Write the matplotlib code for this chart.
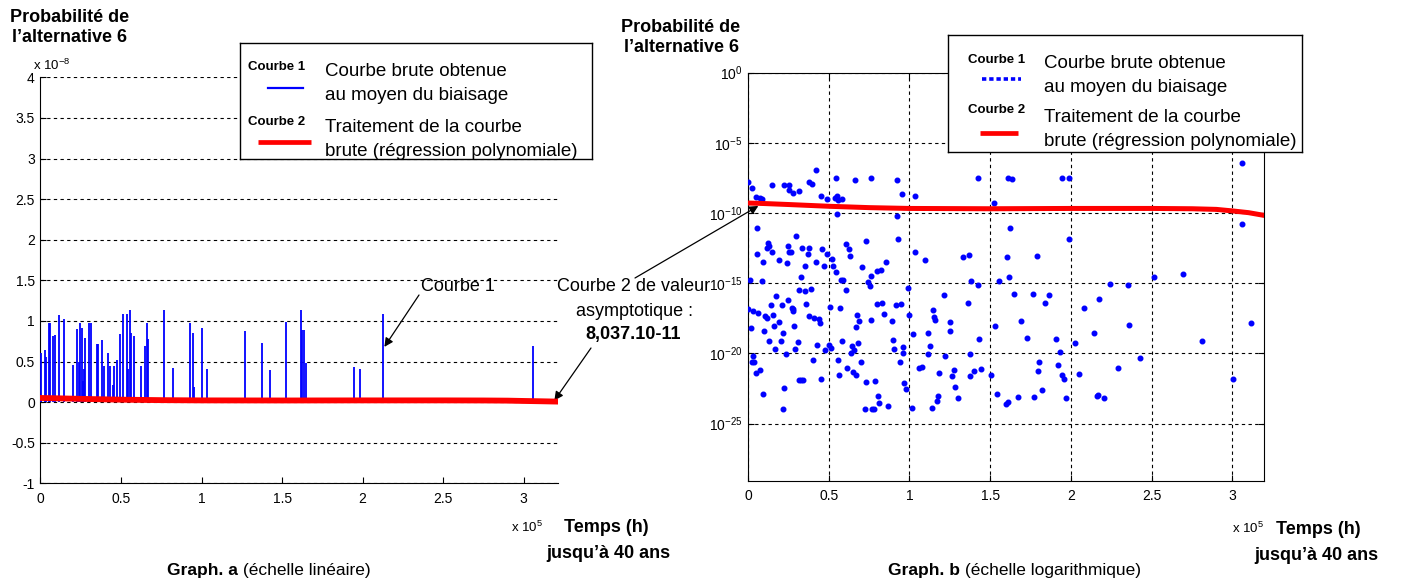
import numpy as np
import matplotlib
matplotlib.use("Agg")
import matplotlib.pyplot as plt
from matplotlib.ticker import FormatStrFormatter, NullLocator

plt.rcParams['font.family'] = ['Liberation Sans', 'DejaVu Sans']
plt.rcParams['mathtext.fontset'] = 'custom'
plt.rcParams['mathtext.rm'] = 'Liberation Sans'
plt.rcParams['mathtext.it'] = 'Liberation Sans:italic'
plt.rcParams['mathtext.bf'] = 'Liberation Sans:bold'

W, H = 1401, 578

def fx(x):
    return x / W

def fy(y):
    return 1 - y / H

# --- Graph a : courbe brute (pics), temps en 1e5 h, proba en 1e-8
spike_t = [0.002, 0.006, 0.029, 0.035, 0.052, 0.058, 0.081, 0.089, 0.118, 0.147,
           0.205, 0.227, 0.234, 0.240, 0.248, 0.256, 0.265, 0.271, 0.279, 0.304,
           0.316, 0.354, 0.360, 0.383, 0.397, 0.420, 0.434, 0.451, 0.457, 0.478,
           0.492, 0.513, 0.536, 0.544, 0.558, 0.565, 0.581, 0.624, 0.647, 0.662,
           0.668, 0.732, 0.765, 0.823, 0.926, 0.947, 0.955, 1.001, 1.036, 1.272,
           1.375, 1.427, 1.522, 1.617, 1.625, 1.634, 1.650, 1.948, 1.985, 2.126,
           3.060]
spike_p = [0.61, 0.09, 0.64, 0.56, 0.97, 0.97, 0.81, 0.83, 1.07, 1.02,
           0.46, 0.90, 0.04, 0.49, 0.97, 0.91, 0.26, 0.41, 0.79, 0.97,
           0.97, 0.72, 0.72, 0.76, 0.44, 0.61, 0.45, 0.21, 0.45, 0.52,
           0.84, 1.09, 1.09, 0.41, 1.13, 0.85, 0.81, 0.44, 0.69, 0.97,
           0.78, 0.02, 1.13, 0.42, 0.97, 0.85, 0.19, 0.91, 0.41, 0.88,
           0.73, 0.39, 0.99, 1.13, 0.89, 0.89, 0.48, 0.43, 0.41, 1.08,
           0.69]

# --- Courbe 2 : regression polynomiale
fit_t = [0, 0.1, 0.25, 0.5, 0.75, 1.0, 1.5, 2.0, 2.5, 2.75, 2.9, 3.0, 3.1, 3.2]
fit_p = [5.1e-10, 4.7e-10, 4.0e-10, 3.0e-10, 2.4e-10, 2.1e-10, 2.0e-10, 2.1e-10,
         2.1e-10, 2.0e-10, 1.8e-10, 1.4e-10, 1.05e-10, 6.6e-11]

# --- Graph b : points de la courbe brute (temps 1e5 h, log10 proba)
pts_t = [0.0, 0.027, 0.047, 0.074, 0.087, 0.058, 0.147, 0.225, 0.254, 0.256, 0.277, 0.316, 0.378, 0.394,
         0.419, 0.454, 0.491, 0.543, 0.537, 0.549, 0.555, 0.580, 0.549, 0.660, 0.764, 0.925, 0.956, 1.036,
         0.925, 1.426, 1.523, 1.612, 0.299, 0.124, 0.116, 0.132, 0.058, 0.095, 0.151, 0.190, 0.241, 0.248,
         0.256, 0.264, 0.334, 0.380, 0.373, 0.421, 0.460, 0.491, 0.353, 0.469, 0.522, 0.528, 0.543, 0.609,
         0.623, 0.632, 0.733, 0.706, 0.852, 0.931, 1.036, 1.096, 1.329, 1.366, 1.601, 0.012, 0.087, 0.330,
         0.574, 0.586, 0.745, 0.764, 0.801, 0.826, 0.755, 0.993, 1.383, 1.426, 1.554, 1.616, 0.314, 0.351,
         0.388, 0.175, 0.248, 0.609, 1.214, 1.625,
         0.0, 0.019, 0.033, 0.064, 0.105, 0.120, 0.153, 0.144, 0.159, 0.190, 0.213, 0.217, 0.270, 0.277,
         0.281, 0.285, 0.099, 0.130, 0.167, 0.204, 0.233, 0.293, 0.307, 0.357, 0.380, 0.409, 0.440, 0.448,
         0.425, 0.402, 0.477, 0.504, 0.512, 0.506, 0.572, 0.580, 0.644, 0.658, 0.638, 0.669, 0.673, 0.689,
         0.683, 0.764, 0.801, 0.832, 0.844, 0.916, 0.947, 0.889, 0.896, 0.904, 0.962, 0.962, 0.941, 0.999,
         1.020, 1.117, 1.125, 1.117, 1.143, 1.152, 1.160, 1.249, 1.249, 1.220, 1.375, 1.432, 1.360, 1.529,
         0.029, 0.025, 0.037, 0.050, 0.072, 0.093, 0.223, 0.217, 0.314, 0.328, 0.343, 0.452, 0.555, 0.563,
         0.615, 0.652, 0.667, 0.698, 0.733, 0.784, 0.727, 0.770, 0.780, 0.807, 0.813, 0.865, 0.968, 0.976,
         1.013, 1.059, 1.079, 1.137, 1.168, 1.174, 1.183, 1.263, 1.278, 1.280, 1.300, 1.372, 1.399, 1.441,
         1.505, 1.544, 1.598, 1.612,
         3.061, 1.633, 1.946, 1.988, 3.061, 1.986, 1.787, 2.516, 2.691, 2.244, 2.355,
         1.647, 1.765, 1.862, 1.839, 2.175, 2.083, 1.690, 1.730, 1.905, 2.023, 2.140, 2.361, 2.809, 3.113,
         1.934, 1.802, 1.794, 1.920, 1.946, 1.957, 2.052, 2.293, 2.427, 1.823, 1.670, 1.771, 1.971, 2.161,
         2.170, 2.206, 3.001]
pts_log = [-7.80, -8.20, -8.86, -8.93, -8.98, -11.09, -8.01, -8.01, -8.01, -8.34, -8.55, -8.46, -7.80, -7.96,
           -6.92, -8.79, -8.98, -7.53, -8.91, -8.77, -9.05, -8.98, -10.04, -7.63, -7.53, -7.63, -8.62, -8.79,
           -10.23, -7.53, -9.29, -7.53, -11.61, -12.11, -12.46, -12.37, -12.89, -13.46, -12.77, -13.36, -13.53, -12.34,
           -12.79, -12.77, -12.46, -12.46, -12.89, -13.46, -12.56, -12.89, -13.81, -13.81, -13.29, -13.81, -14.21, -12.20,
           -12.60, -13.03, -12.01, -13.88, -13.46, -11.85, -12.77, -13.36, -13.13, -12.96, -13.13, -14.74, -14.81, -14.57,
           -14.74, -14.74, -14.90, -14.48, -14.14, -14.05, -15.23, -15.33, -14.81, -15.16, -14.81, -14.57, -15.49, -15.59,
           -15.40, -15.90, -16.20, -15.49, -15.83, -11.10,
           -16.84, -18.22, -17.01, -17.11, -17.34, -17.51, -17.27, -16.54, -18.03, -17.79, -16.58, -18.55, -16.77, -16.87,
           -16.96, -18.03, -18.38, -19.12, -19.66, -19.14, -20.07, -19.66, -19.21, -16.51, -17.34, -17.46, -17.53, -17.86,
           -19.38, -20.49, -19.76, -19.38, -19.64, -16.70, -16.77, -19.14, -19.50, -19.76, -19.99, -18.12, -17.27, -17.70,
           -19.28, -17.60, -16.51, -16.44, -17.20, -16.58, -16.51, -17.70, -19.05, -19.66, -19.57, -19.99, -20.59, -17.29,
           -18.62, -18.55, -19.50, -20.07, -16.94, -17.44, -17.63, -17.79, -18.38, -20.16, -20.07, -18.98, -16.44, -18.03,
           -20.16, -20.59, -20.59, -21.42, -21.18, -22.89, -22.44, -23.98, -21.87, -21.89, -21.87, -21.84, -20.49, -21.51,
           -21.01, -21.30, -21.51, -20.59, -22.03, -21.94, -23.98, -23.98, -23.98, -23.05, -23.55, -23.74, -22.13, -22.53,
           -23.88, -21.01, -20.94, -23.88, -23.38, -23.03, -21.42, -21.61, -21.18, -22.36, -23.19, -21.61, -21.25, -21.09,
           -21.54, -22.89, -23.62, -23.45,
           -6.44, -7.60, -7.53, -7.53, -10.76, -11.85, -13.03, -14.57, -14.31, -15.07, -15.16,
           -15.75, -15.75, -15.83, -16.44, -16.09, -16.77, -17.70, -18.88, -18.98, -19.24, -18.55, -17.96, -19.14, -17.86,
           -19.90, -20.59, -21.25, -20.82, -21.51, -21.84, -21.44, -21.01, -20.33, -22.60, -23.12, -23.12, -23.19, -23.05,
           -22.96, -23.19, -21.84]

xticks = [0, 0.5, 1, 1.5, 2, 2.5, 3]
blue = '#0000ff'
red = '#ff0000'
grid_kw = dict(color='k', linestyle=(0, (3, 3)), linewidth=0.8)

fig = plt.figure(figsize=(W / 100, H / 100), dpi=100)

# ---------------- Graph a (echelle lineaire)
ax1 = fig.add_axes([fx(40.4), fy(483.3), 517.2 / W, 406 / H])
ax1.vlines(spike_t, 0, spike_p, color=blue, lw=1.3, zorder=3)
ax1.plot(fit_t, np.array(fit_p) / 1e-8, color=red, lw=4.2, zorder=4)
ax1.set_xlim(0, 3.21)
ax1.set_ylim(-1, 4)
ax1.set_xticks(xticks)
ax1.set_yticks(np.arange(-1, 4.01, 0.5))
ax1.xaxis.set_major_formatter(FormatStrFormatter('%g'))
ax1.yaxis.set_major_formatter(FormatStrFormatter('%g'))
ax1.spines['top'].set_visible(False)
ax1.spines['right'].set_visible(False)
ax1.tick_params(direction='in', length=4, labelsize=10, pad=4)
ax1.tick_params(axis='x', pad=6)
ax1.yaxis.grid(True, **grid_kw)
ax1.set_axisbelow(True)

# ---------------- Graph b (echelle logarithmique)
ax2 = fig.add_axes([fx(748), fy(481), 516.3 / W, 408.5 / H])
ax2.plot(pts_t, 10.0 ** np.array(pts_log), 'o', color=blue, ms=3.3, mec=blue, zorder=3)
ax2.plot(fit_t, fit_p, color=red, lw=3.6, zorder=4)
ax2.set_yscale('log')
ax2.set_xlim(0, 3.197)
ax2.set_ylim(10 ** -29.08, 1)
ax2.set_xticks(xticks)
ax2.xaxis.set_major_formatter(FormatStrFormatter('%g'))
ax2.set_yticks([1e0, 1e-5, 1e-10, 1e-15, 1e-20, 1e-25])
ax2.set_yticklabels([r'$10^{0}$', r'$10^{-5}$', r'$10^{-10}$', r'$10^{-15}$',
                     r'$10^{-20}$', r'$10^{-25}$'])
ax2.yaxis.set_minor_locator(NullLocator())
ax2.tick_params(direction='in', length=4, labelsize=10, pad=4, right=True, top=True)
ax2.tick_params(axis='x', pad=6)
ax2.grid(True, **grid_kw)
ax2.set_axisbelow(True)

# ---------------- textes des axes
for cx, y0 in [(70, 17), (681, 27)]:
    fig.text(fx(cx), fy(y0), 'Probabilité de', fontsize=13, weight='bold', ha='center', va='center')
    fig.text(fx(cx), fy(y0 + 21), 'l\u2019alternative 6', fontsize=13, weight='bold', ha='center', va='center')
fig.text(fx(33), fy(70), r'x 10$^{-8}$', fontsize=9.5, va='baseline')

for x10, ytx, xt, xj, yt in [(511, 532, 564, 546, 528), (1232, 533, 1276, 1254, 530)]:
    fig.text(fx(x10), fy(ytx), r'x 10$^{5}$', fontsize=9.5, va='baseline')
    fig.text(fx(xt), fy(yt), 'Temps (h)', fontsize=13, weight='bold', va='center')
    fig.text(fx(xj), fy(yt + 25), 'jusqu\u2019à 40 ans', fontsize=13, weight='bold', va='center')

for ax, x0, name, desc in [(ax1, 167, 'Graph. a', ' (échelle linéaire)'),
                           (ax2, 888, 'Graph. b', ' (échelle logarithmique)')]:
    t1 = fig.text(fx(x0), fy(570), name, fontsize=12.5, weight='bold', va='center')
    ax.annotate(desc, xy=(1, 0), xycoords=t1, fontsize=12.5, va='bottom', ha='left')

# ---------------- annotations
arrow = dict(arrowstyle='-|>', color='k', lw=0.9, mutation_scale=13, shrinkA=0, shrinkB=0)
fig.text(fx(421), fy(287), 'Courbe 1', fontsize=13, va='center')
ax1.annotate('', xy=(2.135, 0.68), xycoords='data', xytext=(fx(419), fy(295)),
             textcoords='figure fraction', arrowprops=arrow, annotation_clip=False)
fig.text(fx(634), fy(287), 'Courbe 2 de valeur', fontsize=13, ha='center', va='center')
fig.text(fx(634), fy(311), 'asymptotique :', fontsize=13, ha='center', va='center')
fig.text(fx(633), fy(335), '8,037.10-11', fontsize=13, weight='bold', ha='center', va='center')
ax1.annotate('', xy=(3.19, 0.02), xycoords='data', xytext=(fx(591), fy(348)),
             textcoords='figure fraction', arrowprops=arrow, annotation_clip=False)
ax2.annotate('', xy=(0.064, 10 ** -9.5), xycoords='data', xytext=(fx(635), fy(278)),
             textcoords='figure fraction', arrowprops=arrow, annotation_clip=False)

# ---------------- legendes
def legend_box(x0, y0, w, h, rows, blue_style):
    lg = fig.add_axes([fx(x0), fy(y0 + h), w / W, h / H])
    lg.set_xlim(0, w)
    lg.set_ylim(h, 0)
    lg.set_xticks([])
    lg.set_yticks([])
    for s in lg.spines.values():
        s.set_linewidth(1.0)
    for (lab_x, lab_y, line_x, line_y, txt_x, txt_y, l1, l2, style) in rows:
        lg.text(lab_x, lab_y, l1, fontsize=9.5, weight='bold', va='center')
        lg.plot(line_x, [line_y, line_y], **style)
        lg.text(txt_x, txt_y, l2[0], fontsize=13.5, va='center')
        lg.text(txt_x, txt_y + 24, l2[1], fontsize=13.5, va='center')
    return lg

red_style = dict(color=red, lw=3.4, solid_capstyle='butt')
legend_box(240, 43, 352, 116, [
    (8, 24, [28, 63], 45, 85, 29, 'Courbe 1', ('Courbe brute obtenue', 'au moyen du biaisage'),
     dict(color=blue, lw=1.6)),
    (8, 79, [18, 71], 99, 85, 84, 'Courbe 2', ('Traitement de la courbe', 'brute (régression polynomiale)'),
     red_style),
], None)
legend_box(948, 35, 354, 117, [
    (20, 25, [34, 73], 44, 96, 28, 'Courbe 1', ('Courbe brute obtenue', 'au moyen du biaisage'),
     dict(color=blue, lw=2.6, linestyle=(0, (1.2, 0.8)), dash_capstyle='butt')),
    (20, 75, [32, 70], 98, 96, 82, 'Courbe 2', ('Traitement de la courbe', 'brute (régression polynomiale)'),
     red_style),
], None)

fig.savefig('out.png', dpi=100)
